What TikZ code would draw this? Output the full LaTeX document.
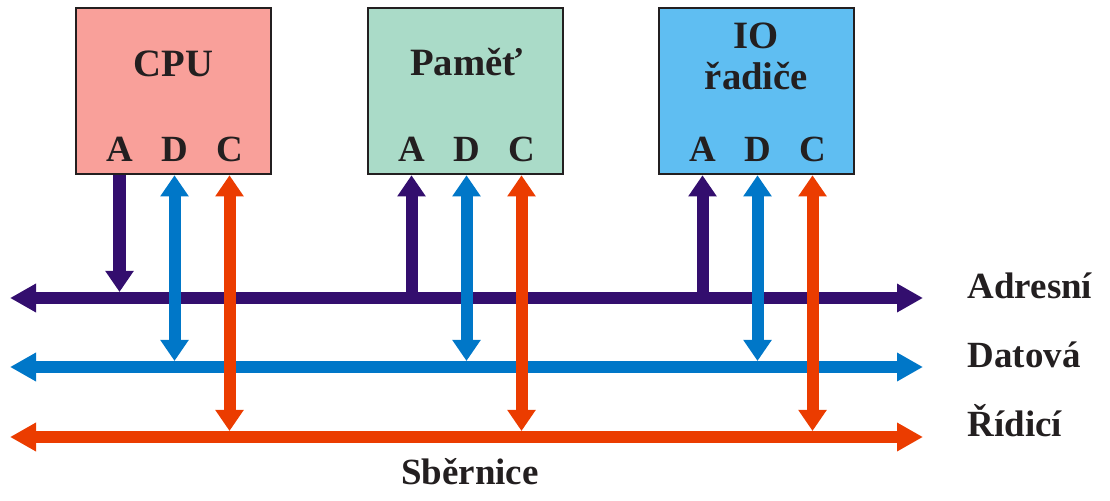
\documentclass[tikz,border=0pt]{standalone}
\usepackage{fontspec}
\setmainfont{Liberation Serif}
\usetikzlibrary{arrows.meta,calc}

\definecolor{adrcol}{RGB}{51,14,110}
\definecolor{datcol}{RGB}{0,119,200}
\definecolor{ridcol}{RGB}{235,60,0}
\definecolor{cpufill}{RGB}{249,160,154}
\definecolor{memfill}{RGB}{170,219,200}
\definecolor{iofill}{RGB}{95,190,242}
\definecolor{ink}{RGB}{35,31,32}

\tikzset{
  unit/.style={draw=ink, line width=0.7pt, minimum width=1.95cm, minimum height=1.66cm, inner sep=0pt},
  txt/.style={font=\fontsize{10.5}{12}\selectfont\bfseries, text=ink, anchor=base, inner sep=0pt},
  unitname/.style={txt, font=\fontsize{11}{13}\selectfont\bfseries},
  bus/.style={line width=0.12cm, {Triangle[length=0.26cm,width=0.27cm]}-{Triangle[length=0.26cm,width=0.27cm]}},
  link/.style={line width=0.12cm, -{Triangle[length=0.21cm,width=0.27cm]}},
  dlink/.style={line width=0.12cm, {Triangle[length=0.21cm,width=0.27cm]}-{Triangle[length=0.21cm,width=0.27cm]}}
}

\begin{document}
\begin{tikzpicture}[x=0.01cm, y=0.01cm]
\useasboundingbox (0,0) rectangle (1110,500);

% Units
\node[unit, fill=cpufill] (cpu) at (173.5,409) {};
\node[unit, fill=memfill] (mem) at (465.5,409) {};
\node[unit, fill=iofill] (io) at (756.5,409) {};

% Unit names
\node[unitname] (cpuname) at (173.5,423) {CPU};
\node[unitname] (memname) at (466.5,424) {Paměť};
\node[unitname] (ioname) at (756.5,451) {IO};
\node[unitname] (ioname2) at (756.5,410) {řadiče};

% Pins A, D, C
\foreach \u in {cpu,mem,io} {
  \node[txt] (A\u) at ($(\u.south)+(-54,14)$) {A};
  \node[txt] (D\u) at ($(\u.south)+(1,14)$) {D};
  \node[txt] (C\u) at ($(\u.south)+(56,14)$) {C};
}

% Bus ends
\coordinate (adrL) at (10,202); \coordinate (adrR) at (923,202);
\coordinate (datL) at (10,133); \coordinate (datR) at (923,133);
\coordinate (ridL) at (10,63);  \coordinate (ridR) at (923,63);

% Buses
\draw[bus, adrcol] (adrL) -- (adrR);
\draw[bus, datcol] (datL) -- (datR);
\draw[bus, ridcol] (ridL) -- (ridR);

\node[txt, anchor=base west] (adresni) at (967,202) {Adresní};
\node[txt, anchor=base west] (datova) at (967,133) {Datová};
\node[txt, anchor=base west] (ridici) at (967,64) {Řídicí};
\node[txt] (sbernice) at (470,16) {Sběrnice};

% Address lines
\draw[link, adrcol, shorten >=0.06cm] (Acpu |- cpu.south) -- (Acpu |- adrL);
\draw[link, adrcol] (Amem |- adrL) -- (Amem |- mem.south);
\draw[link, adrcol] (Aio |- adrL) -- (Aio |- io.south);

% Data and control lines
\foreach \u in {cpu,mem,io} {
  \draw[dlink, datcol, shorten >=0.06cm] (D\u |- \u.south) -- (D\u |- datL);
  \draw[dlink, ridcol, shorten >=0.06cm] (C\u |- \u.south) -- (C\u |- ridL);
}

\end{tikzpicture}
\end{document}
